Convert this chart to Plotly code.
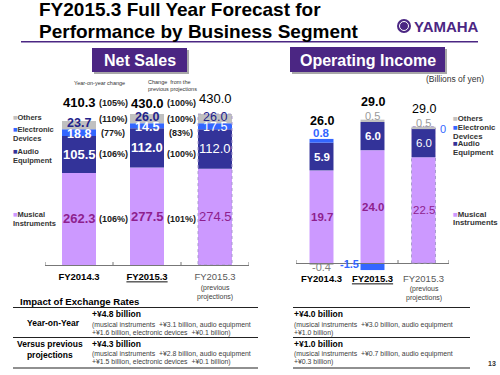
import plotly.graph_objects as go

W, H = 500, 375
FONT = "Liberation Sans, Arial, Helvetica, sans-serif"

# ---------------- data ----------------
categories = ["FY2014.3", "FY2015.3", "FY2015.3 (previous projections)"]
tick_labels = ["<b>FY2014.3</b>", "<b><u>FY2015.3</u></b>",
               "<span style='color:#595959'>FY2015.3</span>"]
tick_note = "(previous<br>projections)"

segment_names = ["Musical Instruments", "Audio Equipment", "Electronic Devices", "Others"]

# Net Sales (billions of yen)
sales_mi = [262.3, 277.5, 274.5]
sales_ae = [105.5, 112.0, 112.0]
sales_ed = [18.8, 14.5, 17.5]
sales_oth = [23.7, 26.0, 26.0]
sales_total = [410.3, 430.0, 430.0]

# percentages, order: total, others, electronic, audio, musical
sales_yoy = ["(105%)", "(110%)", "(77%)", "(106%)", "(106%)"]
sales_vs_prev = ["(100%)", "(100%)", "(83%)", "(100%)", "(101%)"]

# Operating Income (billions of yen)
oi_mi = [19.7, 24.0, 22.5]
oi_ae = [5.9, 6.0, 6.0]
oi_ed = [0.8, -1.5, 0.0]
oi_oth = [-0.4, 0.5, 0.5]
oi_total = [26.0, 29.0, 29.0]

# legend texts (one list entry per line)
legend_lines = [["Others"], ["Electronic", "Devices"], ["Audio", "Equipment"],
                ["Musical", "Instruments"]]

# ---------------- style ----------------
C_MI, C_AE, C_ED, C_OTH = "#CC99FF", "#333399", "#3366FF", "#C0C0C0"
C_MI_TXT = "#8E1F8E"
C_PURPLE = "#4B2683"
BW_L, BW_R = 0.5, 0.47


def X(px):
    return px / W


def Y(py):
    return 1 - py / H


# pixel geometry of the two panels
L_ZERO, L_TOP, L_SCALE = 265, 80, 0.351
R_ZERO, R_TOP, R_BOT, R_SCALE = 263, 84, 282, 4.7

fig = go.Figure()
left_series = [sales_mi, sales_ae, sales_ed, sales_oth]
right_series = [oi_mi, oi_ae, oi_ed, oi_oth]
colors = [C_MI, C_AE, C_ED, C_OTH]
for name, vals, col in zip(segment_names, left_series, colors):
    fig.add_trace(go.Bar(x=list(range(3)), y=vals, name=name, marker_color=col,
                         marker_line_width=0, width=BW_L, xaxis="x", yaxis="y",
                         showlegend=False, hoverinfo="skip"))
for name, vals, col in zip(segment_names, right_series, colors):
    fig.add_trace(go.Bar(x=list(range(3)), y=vals, name=name, marker_color=col,
                         marker_line_width=0, width=BW_R, xaxis="x2", yaxis="y2",
                         showlegend=False, hoverinfo="skip"))

ann = []


def pa(xp, yp, text, size, color="#000000", xanchor="center", yanchor="middle", align="left"):
    ann.append(dict(xref="paper", yref="paper", x=X(xp), y=Y(yp), text=text, showarrow=False,
                    font=dict(family=FONT, size=size, color=color), xanchor=xanchor,
                    yanchor=yanchor, align=align, borderpad=0))


def da(ax, xv, yv, text, size, color, xshift=0, yshift=0, xanchor="center"):
    ann.append(dict(xref=ax[0], yref=ax[1], x=xv, y=yv, text=text, showarrow=False,
                    font=dict(family=FONT, size=size, color=color), xshift=xshift,
                    yshift=yshift, xanchor=xanchor, yanchor="middle", borderpad=0))


def B(t, bold):
    return f"<b>{t}</b>" if bold else t


# ---- left value labels ----
total_shift_l = [18, 11, 16]
for i in range(3):
    bold = i < 2
    mi, ae, ed, oth = sales_mi[i], sales_ae[i], sales_ed[i], sales_oth[i]
    da(("x", "y"), i, mi / 2, B(f"{mi:.1f}", bold), 13, C_MI_TXT)
    da(("x", "y"), i, mi + ae / 2, B(f"{ae:.1f}", bold), 13, "#FFFFFF")
    da(("x", "y"), i, mi + ae + ed / 2, B(f"{ed:.1f}", bold), 12.5, "#FFFFFF", yshift=-1)
    da(("x", "y"), i, mi + ae + ed + oth / 2, B(f"{oth:.1f}", bold), 12.5, "#22228A", yshift=2)
    da(("x", "y"), i, sales_total[i], B(f"{sales_total[i]:.1f}", bold), 13, "#000000",
       yshift=total_shift_l[i])

# percentage columns, aligned with bar-1 segments
lv = [sales_mi[0], sales_ae[0], sales_ed[0], sales_oth[0]]
pct_y = [sales_total[0], lv[0] + lv[1] + lv[2] + lv[3] / 2, lv[0] + lv[1] + lv[2] / 2,
         lv[0] + lv[1] / 2, lv[0] / 2]
pct_shift = [total_shift_l[0], 6, 0, 0, 0]
for col_x, texts in ((0.5, sales_yoy), (1.5, sales_vs_prev)):
    for t, yv, ys in zip(texts, pct_y, pct_shift):
        da(("x", "y"), col_x, yv, f"<b>{t}</b>", 9, "#1A1A1A", yshift=ys)

# ---- right value labels ----
for i in range(3):
    bold = i < 2
    mi, ae, ed, oth = oi_mi[i], oi_ae[i], oi_ed[i], oi_oth[i]
    pos_top = sum(v for v in (mi, ae, ed, oth) if v > 0)
    da(("x2", "y2"), i, mi / 2, B(f"{mi:.1f}", bold), 11.5, C_MI_TXT)
    da(("x2", "y2"), i, mi + ae / 2, B(f"{ae:.1f}", bold), 11.5, "#FFFFFF")
    if ed > 0:
        da(("x2", "y2"), i, mi + ae + ed, B(f"{ed:.1f}", True), 11.5, C_ED, yshift=6)
    elif ed < 0:
        da(("x2", "y2"), i, ed / 2, B(f"{ed:.1f}", True), 11, C_ED, xshift=-13,
           yshift=3, xanchor="right")
    else:
        da(("x2", "y2"), i, mi + ae, f"{ed:.0f}", 11, C_ED, xshift=19)
    if oth < 0:
        da(("x2", "y2"), i, oth, f"{oth:.1f}", 11, "#7F7F7F", yshift=-2)
    else:
        da(("x2", "y2"), i, pos_top, f"{oth:.1f}", 11, "#9A9A9A", yshift=4)
    da(("x2", "y2"), i, pos_top, B(f"{oi_total[i]:.1f}", bold), 12.5, "#000000", yshift=18)

# category notes under the third tick label
da(("x", "paper"), 2, Y(292.5), tick_note, 7, "#404040")
da(("x2", "paper"), 2, Y(293), tick_note, 7, "#404040")


# ---- legends ----
def legend(x0, rows, size):
    # rows: list of y-positions per line of each legend entry
    for lines, col, ys in zip(legend_lines, [C_OTH, C_ED, C_AE, C_MI], rows):
        for k, (line, yp) in enumerate(zip(lines, ys)):
            t = f"<span style='color:{col}'>■</span>{line}" if k == 0 else line
            pa(x0, yp, f"<b>{t}</b>", size, "#333333", xanchor="left")


legend(12, [[117], [129, 138], [151, 160], [214, 223]], 7.5)
legend(452, [[118], [128, 136.5], [143.5, 152], [214, 222]], 7.8)

# ---- headings ----
pa(38, 9.5, "<b>FY2015.3 Full Year Forecast for</b>", 19, xanchor="left")
pa(38, 31.5, "<b>Performance by Business Segment</b>", 19, xanchor="left")
pa(413, 26, "<b>YAMAHA</b>", 15, C_PURPLE, xanchor="left")
pa(139.5, 60, "<b>Net Sales</b>", 16, "#FFFFFF")
pa(367.5, 60, "<b>Operating Income</b>", 16, "#FFFFFF")
pa(485, 78.5, "(Billions of yen)", 8.5, "#333333", xanchor="right")
pa(99, 83, "Year-on-year change", 5.5, "#333333")
pa(172, 85.5, "Change  from the<br>previous projections", 5.5, "#333333")

# ---- exchange-rate table ----
pa(19, 301.5, "<b>Impact of Exchange Rates</b>", 9.6, xanchor="left")
pa(53, 323, "<b>Year-on-Year</b>", 8.5)
pa(50, 349.5, "<b>Versus previous<br>projections</b>", 8.5, align="center")
small = "#404040"
SS = 6.9
pa(91, 314, "<b>+¥4.8 billion</b>", 8.5, xanchor="left")
pa(91, 324.5, "(musical instruments  +¥3.1 billion, audio equipment", SS, small, xanchor="left")
pa(91, 332.5, "+¥1.6 billion, electronic devices  +¥0.1 billion)", SS, small, xanchor="left")
pa(91, 343.5, "<b>+¥4.3 billion</b>", 8.5, xanchor="left")
pa(91, 353.5, "(musical instruments  +¥2.8 billion, audio equipment", SS, small, xanchor="left")
pa(91, 361.5, "+¥1.5 billion, electronic devices  +¥0.1 billion)", SS, small, xanchor="left")
pa(293, 314, "<b>+¥4.0 billion</b>", 8.5, xanchor="left")
pa(293, 324.5, "(musical instruments  +¥3.0 billion, audio equipment", SS, small, xanchor="left")
pa(293, 332.5, "+¥1.0 billion)", SS, small, xanchor="left")
pa(293, 343.5, "<b>+¥1.0 billion</b>", 8.5, xanchor="left")
pa(293, 353.5, "(musical instruments  +¥0.7 billion, audio equipment", SS, small, xanchor="left")
pa(293, 361.5, "+¥0.3 billion)", SS, small, xanchor="left")
pa(492, 363, "<b>13</b>", 7, "#333333")

# ---- shapes ----
shapes = []


def prect(x0, y0, x1, y1, fill):
    shapes.append(dict(type="rect", xref="paper", yref="paper", x0=X(x0), x1=X(x1),
                       y0=Y(y1), y1=Y(y0), fillcolor=fill, line=dict(width=0), layer="below"))


def pline(x0, y0, x1, y1, color, width):
    shapes.append(dict(type="line", xref="paper", yref="paper", x0=X(x0), x1=X(x1),
                       y0=Y(y0), y1=Y(y1), line=dict(color=color, width=width)))


pline(21, 41.8, 478, 41.8, C_PURPLE, 1.6)
prect(94, 50, 189, 74, "#A8A8A8")
prect(92, 48, 187, 72, C_PURPLE)
prect(292, 49, 447, 74, "#A8A8A8")
prect(290, 47, 445, 72, C_PURPLE)
shapes.append(dict(type="circle", xref="paper", yref="paper", x0=X(397), x1=X(411),
                   y0=Y(33), y1=Y(19), fillcolor=C_PURPLE, line=dict(width=0)))
shapes.append(dict(type="circle", xref="paper", yref="paper", x0=X(399.5), x1=X(408.5),
                   y0=Y(30.5), y1=Y(21.5), fillcolor="rgba(0,0,0,0)",
                   line=dict(color="#FFFFFF", width=1)))
for yp in (307.5, 337.5, 368):
    pline(13, yp, 258, yp, "#222222", 1.1)
    pline(293, yp, 470, yp, "#222222", 1.1)

# dotted outline around the "previous projections" bars
shapes.append(dict(type="rect", xref="x", yref="y", x0=2 - BW_L / 2, x1=2 + BW_L / 2,
                   y0=0, y1=sales_total[2], line=dict(color="#A89ACD", width=1, dash="dot")))
shapes.append(dict(type="rect", xref="x2", yref="y2", x0=2 - BW_R / 2, x1=2 + BW_R / 2,
                   y0=0, y1=sum(v for v in (oi_mi[2], oi_ae[2], oi_ed[2], oi_oth[2]) if v > 0),
                   line=dict(color="#A89ACD", width=1, dash="dot")))

axis_common = dict(type="linear", range=[-0.5, 2.5], tickmode="array", tickvals=[0, 1, 2],
                   ticktext=tick_labels, showline=True, linecolor="#777777", linewidth=1,
                   ticks="", showgrid=False, zeroline=False,
                   tickfont=dict(family=FONT, size=9.5, color="#000000"),
                   fixedrange=True)

# boundary tick marks (category boundaries) as short vertical lines
for xr, yr, scale in (("x", "y", L_SCALE), ("x2", "y2", R_SCALE)):
    for b in (-0.5, 0.5, 1.5, 2.5):
        shapes.append(dict(type="line", xref=xr, yref=yr, x0=b, x1=b, y0=0,
                           y1=3 / scale, line=dict(color="#777777", width=1)))

fig.update_layout(
    width=W, height=H, margin=dict(l=0, r=0, t=0, b=0),
    paper_bgcolor="#FFFFFF", plot_bgcolor="rgba(0,0,0,0)",
    barmode="relative", showlegend=False,
    xaxis=dict(domain=[X(45), X(249)], anchor="y", ticklabelstandoff=3, **axis_common),
    yaxis=dict(domain=[Y(L_ZERO), Y(L_TOP)], range=[0, (L_ZERO - L_TOP) / L_SCALE],
               visible=False, fixedrange=True),
    xaxis2=dict(domain=[X(296), X(449)], anchor="free", position=Y(R_ZERO),
                ticklabelstandoff=7, **axis_common),
    yaxis2=dict(domain=[Y(R_BOT), Y(R_TOP)],
                range=[-(R_BOT - R_ZERO) / R_SCALE, (R_ZERO - R_TOP) / R_SCALE],
                visible=False, fixedrange=True, anchor="x2"),
    annotations=ann, shapes=shapes,
)

fig.write_html("out.html", config={"displayModeBar": False},
               post_script="document.body.style.margin='0';")
